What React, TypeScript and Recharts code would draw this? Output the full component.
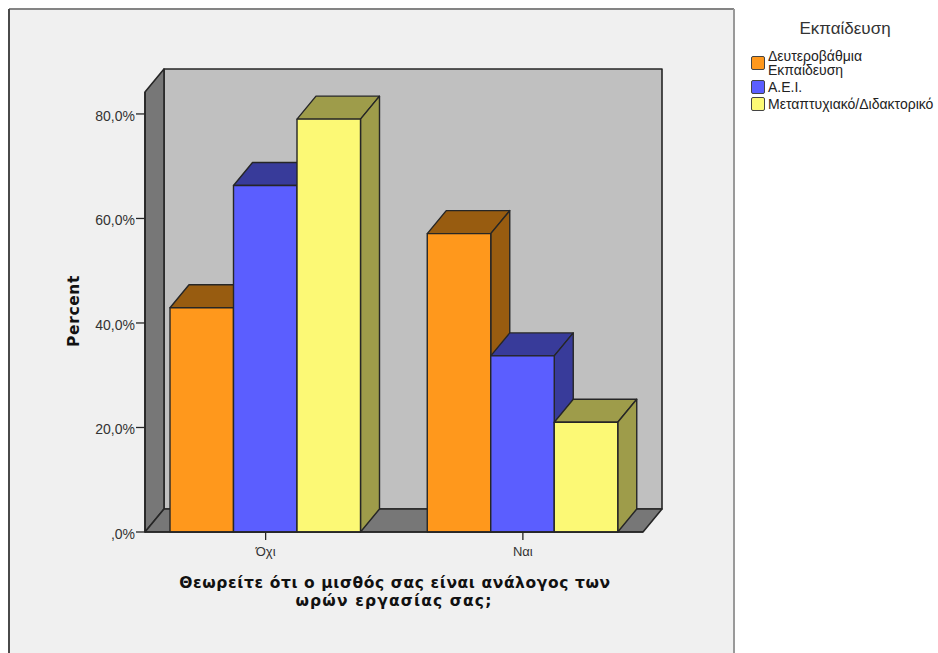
import { BarChart, Bar, XAxis, YAxis, Legend } from 'recharts'

const categories = ['Όχι', 'Ναι']
const secondary = [42.9, 57.1]
const university = [66.3, 33.7]
const postgraduate = [79.0, 21.0]
const yTicks = [0, 20, 40, 60, 80]

const seriesNames = ['Δευτεροβάθμια Εκπαίδευση', 'Α.Ε.Ι.', 'Μεταπτυχιακό/Διδακτορικό']
const frontColors = ['#ff981c', '#5b5eff', '#fcf975']
const shadeColors = ['#985c10', '#383b9a', '#9e9c4a']

const data = categories.map((name, i) => ({
  name,
  secondary: secondary[i],
  university: university[i],
  postgraduate: postgraduate[i],
}))

const WIDTH = 938
const HEIGHT = 653
const LEFT = 145
const RIGHT = 643
const TOP = 92
const BOTTOM = 532
const DX = 19
const DY = 23
const INK = '#262626'
const FONT = '"Liberation Sans", Arial, sans-serif'
const TITLE_FONT = '"DejaVu Sans", Verdana, sans-serif'

// extruded bar: front face, lid and right side
function Bar3D(props: any) {
  const { x, y, width, height, index, shade, fill } = props
  const r = x + width
  const b = y + height
  return (
    <g stroke={INK} strokeWidth={1.4} strokeLinejoin="round" key={index}>
      <polygon points={`${x},${y} ${x + DX},${y - DY} ${r + DX},${y - DY} ${r},${y}`} fill={shade} />
      <polygon points={`${r},${y} ${r + DX},${y - DY} ${r + DX},${b - DY} ${r},${b}`} fill={shade} />
      <rect x={x} y={y} width={width} height={height} fill={fill} />
    </g>
  )
}

function Panel() {
  return (
    <g>
      <rect x={0} y={0} width={WIDTH} height={HEIGHT} fill="#ffffff" />
      <rect x={9} y={9} width={725} height={HEIGHT} fill="#f0f0f0" />
      <line x1={9} y1={9} x2={734} y2={9} stroke="#848484" strokeWidth={2} />
      <line x1={9} y1={9} x2={9} y2={HEIGHT} stroke="#4a4a4a" strokeWidth={2} />
      <line x1={734} y1={9} x2={734} y2={HEIGHT} stroke="#999999" strokeWidth={2} />
    </g>
  )
}

function Walls() {
  return (
    <g stroke={INK} strokeWidth={1.6} strokeLinejoin="round">
      <rect x={LEFT + DX} y={TOP - DY} width={RIGHT - LEFT} height={BOTTOM - TOP} fill="#c0c0c0" />
      <polygon
        points={`${LEFT},${TOP} ${LEFT + DX},${TOP - DY} ${LEFT + DX},${BOTTOM - DY} ${LEFT},${BOTTOM}`}
        fill="#777777"
      />
      <polygon
        points={`${LEFT},${BOTTOM} ${LEFT + DX},${BOTTOM - DY} ${RIGHT + DX},${BOTTOM - DY} ${RIGHT},${BOTTOM}`}
        fill="#777777"
      />
    </g>
  )
}

function AxisTitles() {
  const bold = { fontFamily: TITLE_FONT, fontWeight: 700, fontSize: 15.5, fill: '#111', letterSpacing: 0.6 }
  return (
    <g>
      <text x={79} y={311} textAnchor="middle" transform="rotate(-90 79 311)" style={bold}>
        Percent
      </text>
      <text x={395} y={588} textAnchor="middle" style={bold}>
        Θεωρείτε ότι ο μισθός σας είναι ανάλογος των
      </text>
      <text x={394} y={606} textAnchor="middle" style={{ ...bold, letterSpacing: 1.15 }}>
        ωρών εργασίας σας;
      </text>
      <text x={845} y={34} textAnchor="middle" style={{ fontFamily: FONT, fontSize: 17, fill: '#333' }}>
        Εκπαίδευση
      </text>
    </g>
  )
}

function LegendList({ payload }: any) {
  return (
    <div style={{ fontFamily: FONT, fontSize: 14, lineHeight: '14px', color: '#222' }}>
      {(payload ?? []).map((entry: any) => (
        <div key={entry.value} style={{ display: 'flex', alignItems: 'center', marginBottom: 3 }}>
          <span
            style={{
              width: 12,
              height: 12,
              marginRight: 3,
              flex: 'none',
              background: entry.color,
              border: '1.5px solid #444',
              borderRadius: 2,
            }}
          />
          <span style={{ width: entry.value.includes(' ') ? 110 : undefined, whiteSpace: entry.value.includes(' ') ? 'normal' : 'nowrap' }}>
            {entry.value}
          </span>
        </div>
      ))}
    </div>
  )
}

export default function App() {
  const keys = ['secondary', 'university', 'postgraduate']
  return (
    <div style={{ position: 'absolute', left: 0, top: 0, width: WIDTH, height: HEIGHT, overflow: 'hidden' }}>
      <BarChart
        width={WIDTH}
        height={HEIGHT}
        data={data}
        margin={{ top: TOP, right: WIDTH - RIGHT, left: LEFT - 60, bottom: HEIGHT - BOTTOM - 30 }}
        barGap={0}
        barSize={63.5}
      >
        <Panel />
        <Walls />
        <AxisTitles />
        <XAxis
          dataKey="name"
          height={30}
          padding={{ left: -8, right: -8.5 }}
          tickSize={8}
          tickMargin={7}
          tick={{ fontFamily: FONT, fontSize: 13, fill: '#333' }}
          axisLine={{ stroke: INK, strokeWidth: 1.6 }}
          tickLine={{ stroke: INK, strokeWidth: 1.3 }}
        />
        <YAxis
          width={60}
          domain={[0, 84.2]}
          ticks={yTicks}
          tickFormatter={(v: number) => (v === 0 ? ',0%' : `${v},0%`)}
          tickSize={9}
          tickMargin={1}
          tick={{ fontFamily: FONT, fontSize: 14, fill: '#333', dy: 2 }}
          axisLine={{ stroke: INK, strokeWidth: 1.6 }}
          tickLine={{ stroke: INK, strokeWidth: 1.3 }}
        />
        <Legend
          layout="vertical"
          align="center"
          verticalAlign="middle"
          itemSorter={null}
          wrapperStyle={{ position: 'absolute', left: 751, top: 49, width: 187 }}
          content={<LegendList />}
        />
        {keys.map((key, i) => (
          <Bar
            key={key}
            dataKey={key}
            name={seriesNames[i]}
            fill={frontColors[i]}
            isAnimationActive={false}
            shape={(p: any) => <Bar3D {...p} shade={shadeColors[i]} fill={frontColors[i]} />}
          />
        ))}
      </BarChart>
    </div>
  )
}
